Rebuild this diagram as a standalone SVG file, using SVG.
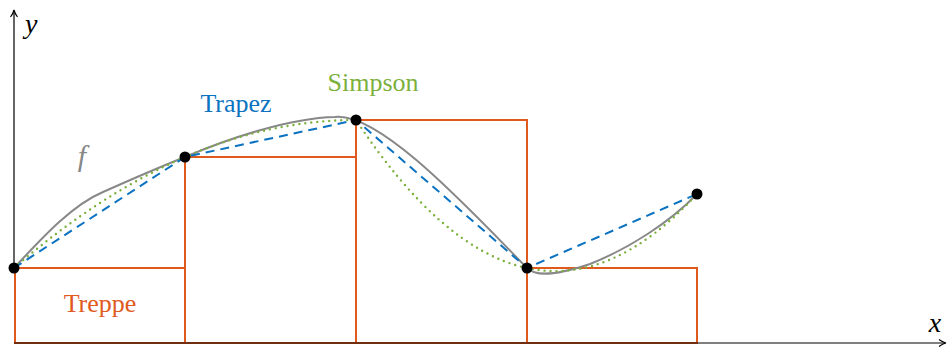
<svg xmlns="http://www.w3.org/2000/svg" width="949" height="351" viewBox="0 0 949 351">
<style>
.lbl{font-family:"Liberation Serif","Times New Roman",serif;font-size:26px;text-anchor:middle}
.it{font-family:"Liberation Serif","Times New Roman",serif;font-style:italic}
.step{fill:none;stroke:#e05a1e;stroke-width:2}
.axis{fill:none;stroke:#000;stroke-width:1.2}
</style>
<rect width="949" height="351" fill="#fff"/>
<g id="steps">
<rect class="step" x="15" y="268" width="170" height="75"/>
<rect class="step" x="185" y="157" width="171" height="186"/>
<rect class="step" x="356" y="120" width="171" height="223"/>
<rect class="step" x="527" y="268" width="170" height="75"/>
</g>
<g id="axes">
<path class="axis" d="M14,268 V11 M945,343 H14"/>
<path class="axis" d="M10.5,17 Q13.2,13.5 14,10 Q14.8,13.5 17.5,17"/>
<path class="axis" d="M939,339.5 Q942.5,342.2 946,343 Q942.5,343.8 939,346.5"/>
</g>
<g id="curves">
<path d="M14,268 C42,238 72,205 103,192 C130,180 160,167 185,157 C230,138 290,118 335,117 C380,112 470,210 527,268 C537,278 560,274 590,264 C630,248 670,222 697,194" fill="none" stroke="#888" stroke-width="2"/>
<path d="M14,268 Q185,120 356,120 Q527,379 697,194" fill="none" stroke="#7cb03c" stroke-width="2.4" stroke-linecap="round" stroke-dasharray="0 6"/>
<path d="M14,268 L185,157 L356,120 L527,268 L697,194" fill="none" stroke="#0a72c0" stroke-width="2" stroke-dasharray="9 6"/>
</g>
<g id="points" fill="#000">
<circle cx="14" cy="268" r="5.5"/>
<circle cx="185" cy="157" r="5.5"/>
<circle cx="356" cy="120" r="5.5"/>
<circle cx="527" cy="268" r="5.5"/>
<circle cx="697" cy="194" r="5.5"/>
</g>
<g id="labels">
<text class="lbl" x="100" y="312" fill="#e05a1e">Treppe</text>
<text class="lbl" x="236" y="112" fill="#0a72c0">Trapez</text>
<text class="lbl" x="373" y="91" fill="#7cb03c">Simpson</text>
<text class="it" x="82" y="166" font-size="30" fill="#888" text-anchor="middle">f</text>
<text class="it" x="25" y="33" font-size="28">y</text>
<text class="it" x="935" y="332" font-size="28" text-anchor="middle">x</text>
</g>
</svg>
